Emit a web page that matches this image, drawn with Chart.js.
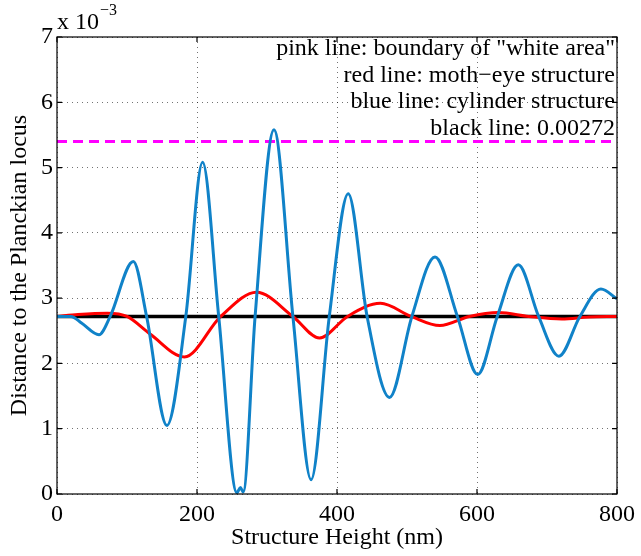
<!DOCTYPE html>
<html>
<head>
<meta charset="utf-8">
<script src="https://cdn.jsdelivr.net/npm/chart.js@4"></script>
<style>
  html, body { margin: 0; padding: 0; background: #fff; }
  canvas { display: block; }
</style>
</head>
<body>
<canvas id="myChart" width="641" height="556"></canvas>
<script>
// values (y in units of 1e-3)
var blueX = [0, 20, 35, 60, 76, 109, 128, 157, 184, 208, 231, 257, 262, 266, 283, 310, 337, 363, 389, 416, 443, 475, 507, 540, 572, 601, 629, 659, 688, 717, 747, 777, 800];
var blueY = [2.72, 2.72, 2.62, 2.44, 2.72, 3.56, 2.72, 1.05, 2.72, 5.08, 2.72, 0.02, 0.1, 0.03, 2.72, 5.58, 2.72, 0.22, 2.72, 4.6, 2.72, 1.48, 2.72, 3.63, 2.72, 1.83, 2.72, 3.51, 2.72, 2.11, 2.72, 3.14, 2.99];

var redX = [0, 30, 72, 100, 133, 182, 234, 285, 337, 375, 415, 462, 506, 547, 589, 631, 674, 721, 760, 800];
var redY = [2.72, 2.75, 2.77, 2.72, 2.45, 2.10, 2.72, 3.09, 2.72, 2.39, 2.72, 2.92, 2.72, 2.58, 2.72, 2.78, 2.72, 2.68, 2.71, 2.72];

var blackX = [0, 800];
var blackY = [2.72, 2.72];

var pinkX = [0, 800];
var pinkY = [5.4, 5.4];

var xTicks = [0, 200, 400, 600, 800];
var yTicks = [0, 1, 2, 3, 4, 5, 6, 7];

var notes = [
    'pink line: boundary of "white area"',
    'red line: moth\u2212eye structure',
    'blue line: cylinder structure',
    'black line: 0.00272'
];

var FONT = '"Liberation Serif", "DejaVu Serif", serif';

function pts(xs, ys) {
    var out = [];
    for (var i = 0; i < xs.length; i++) {
        out.push({x: xs[i], y: ys[i]});
    }
    return out;
}

// box, inward ticks, notes, exponent
var matlabBits = {
    id: 'matlabBits',
    afterDatasetsDraw: function (chart) {
        var ctx = chart.ctx;
        var a = chart.chartArea;
        var sx = chart.scales.x, sy = chart.scales.y;
        ctx.save();
        ctx.strokeStyle = '#000';
        ctx.lineWidth = 1.2;
        ctx.strokeRect(a.left, a.top, a.right - a.left, a.bottom - a.top);
        ctx.beginPath();
        xTicks.forEach(function (v) {
            var px = sx.getPixelForValue(v);
            ctx.moveTo(px, a.bottom); ctx.lineTo(px, a.bottom - 5);
            ctx.moveTo(px, a.top); ctx.lineTo(px, a.top + 5);
        });
        yTicks.forEach(function (v) {
            var py = sy.getPixelForValue(v);
            ctx.moveTo(a.left, py); ctx.lineTo(a.left + 5, py);
            ctx.moveTo(a.right, py); ctx.lineTo(a.right - 5, py);
        });
        ctx.stroke();

        ctx.fillStyle = '#000';
        ctx.font = '24px ' + FONT;
        ctx.textAlign = 'right';
        ctx.textBaseline = 'middle';
        for (var i = 0; i < notes.length; i++) {
            ctx.fillText(notes[i], 615, 49 + i * 26.5);
        }

        ctx.textAlign = 'left';
        ctx.textBaseline = 'alphabetic';
        ctx.fillText('x 10', 57, 29);
        ctx.font = '16px ' + FONT;
        ctx.fillText('\u22123', 100, 15);
        ctx.restore();
    }
};

var ctx = document.getElementById('myChart').getContext('2d');
var chart = new Chart(ctx, {
    type: 'line',
    data: {
        datasets: [
            {
                label: 'cylinder structure',
                data: pts(blueX, blueY),
                borderColor: 'rgb(16,130,200)',
                borderWidth: 3,
                cubicInterpolationMode: 'monotone',
                order: 1
            }, {
                label: 'moth-eye structure',
                data: pts(redX, redY),
                borderColor: 'rgb(255,0,0)',
                borderWidth: 3,
                cubicInterpolationMode: 'monotone',
                order: 2
            }, {
                label: '0.00272',
                data: pts(blackX, blackY),
                borderColor: '#000',
                borderWidth: 3.5,
                order: 3
            }, {
                label: 'white area',
                data: pts(pinkX, pinkY),
                borderColor: 'rgb(255,0,255)',
                borderWidth: 3,
                borderDash: [10, 6],
                order: 4
            }
        ]
    },
    options: {
        responsive: false,
        animation: false,
        layout: { padding: { top: 37, right: 19, left: 0, bottom: 0 } },
        elements: { point: { radius: 0 } },
        plugins: { legend: { display: false }, tooltip: { enabled: false } },
        scales: {
            x: {
                type: 'linear',
                min: 0,
                max: 800,
                afterBuildTicks: function (s) { s.ticks = xTicks.map(function (v) { return {value: v}; }); },
                afterFit: function (s) { s.height = 62; },
                ticks: { color: '#000', font: { family: FONT, size: 24 }, padding: 6, maxRotation: 0 },
                grid: { color: 'rgba(0,0,0,0.55)', lineWidth: 1, drawTicks: false },
                border: { display: false, dash: [1, 4] },
                title: { display: true, text: 'Structure Height (nm)', color: '#000', font: { family: FONT, size: 24 }, padding: { top: 0, bottom: 4 } }
            },
            y: {
                min: 0,
                max: 7,
                afterBuildTicks: function (s) { s.ticks = yTicks.map(function (v) { return {value: v}; }); },
                afterFit: function (s) { s.width = 57; },
                ticks: { color: '#000', font: { family: FONT, size: 24 }, padding: 4 },
                grid: { color: 'rgba(0,0,0,0.55)', lineWidth: 1, drawTicks: false },
                border: { display: false, dash: [1, 4] },
                title: { display: true, text: 'Distance to the Planckian locus', color: '#000', font: { family: FONT, size: 24 }, padding: { top: 5, bottom: 0 } }
            }
        }
    },
    plugins: [matlabBits]
});
</script>
</body>
</html>
